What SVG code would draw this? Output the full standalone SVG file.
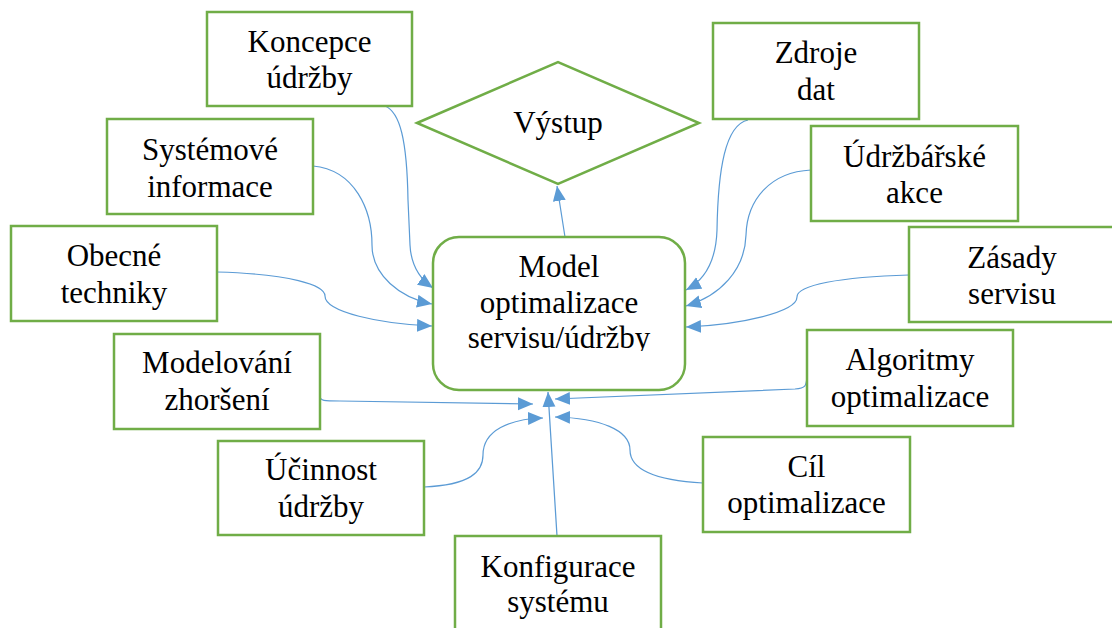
<svg xmlns="http://www.w3.org/2000/svg" width="1112" height="628" viewBox="0 0 1112 628" font-family="Liberation Serif, serif">
<defs>
<style>
.box{fill:#fff;stroke:#70AD47;stroke-width:2.5}
.t{font-size:31px;fill:#000;text-anchor:middle}
.c{fill:none;stroke:#5B9BD5;stroke-width:1.2}
</style>
<marker id="ah" markerUnits="userSpaceOnUse" markerWidth="16" markerHeight="14" refX="15" refY="6.5" orient="auto">
<path d="M0,0 L15,6.5 L0,13 z" fill="#5B9BD5"/>
</marker>
<clipPath id="cclip"><rect x="433" y="237" width="252" height="114"/></clipPath>
</defs>
<rect width="1112" height="628" fill="#fff"/>

<g id="connectors">
<path class="c" marker-end="url(#ah)" d="M385,106 C400,112 407,140 408,200 L410,245 C411,265 420,279 433,288"/>
<path class="c" marker-end="url(#ah)" d="M313,166 C355,170 372,210 372,245 C372,275 400,298 432,304"/>
<path class="c" marker-end="url(#ah)" d="M217,272 C290,274 325,285 325,296 C325,312 380,324 432,326"/>
<path class="c" marker-end="url(#ah)" d="M320,396 C320,401 324,401 340,401 L533,404"/>
<path class="c" marker-end="url(#ah)" d="M424,487 C470,485 483,472 483,455 C483,430 510,419 543,418"/>
<path class="c" marker-end="url(#ah)" d="M557,536 L548,392"/>
<path class="c" marker-end="url(#ah)" d="M807,377 C806,386 806,388 795,389 L555,399"/>
<path class="c" marker-end="url(#ah)" d="M703,483 C650,480 630,468 630,450 C630,430 600,418 555,417"/>
<path class="c" marker-end="url(#ah)" d="M748,120 C725,125 718,170 717,230 C716,262 705,280 686,290"/>
<path class="c" marker-end="url(#ah)" d="M811,170 C770,172 747,200 746,235 C745,270 720,296 686,306"/>
<path class="c" marker-end="url(#ah)" d="M909,275 C840,277 797,285 797,297 C797,312 740,325 686,327"/>
<path class="c" marker-end="url(#ah)" d="M565,237 L557,186"/>
</g>

<g id="center">
<rect class="box" x="433" y="237" width="252" height="153" rx="26" ry="26"/>
<g clip-path="url(#cclip)">
<text class="t" x="559" y="277">Model</text>
<text class="t" x="559" y="313">optimalizace</text>
<text class="t" x="559" y="348">servisu/údržby</text>
</g>
</g>

<g id="vystup">
<polygon class="box" points="417,123 558,62 699,123 558,184"/>
<text class="t" x="558" y="133">Výstup</text>
</g>

<g id="koncepce">
<rect class="box" x="207" y="12" width="205" height="94"/>
<text class="t" x="309.5" y="52">Koncepce</text>
<text class="t" x="309.5" y="88">údržby</text>
</g>

<g id="systemove">
<rect class="box" x="107" y="119" width="206" height="95"/>
<text class="t" x="210" y="160">Systémové</text>
<text class="t" x="210" y="197">informace</text>
</g>

<g id="obecne">
<rect class="box" x="11" y="226" width="206" height="95"/>
<text class="t" x="114" y="266">Obecné</text>
<text class="t" x="114" y="303">techniky</text>
</g>

<g id="modelovani">
<rect class="box" x="114" y="334" width="206" height="95"/>
<text class="t" x="217" y="373">Modelování</text>
<text class="t" x="217" y="410">zhoršení</text>
</g>

<g id="ucinnost">
<rect class="box" x="218" y="441" width="206" height="94"/>
<text class="t" x="321" y="480">Účinnost</text>
<text class="t" x="321" y="517">údržby</text>
</g>

<g id="konfigurace">
<rect class="box" x="455" y="536" width="206" height="100"/>
<text class="t" x="558" y="577">Konfigurace</text>
<text class="t" x="558" y="612">systému</text>
</g>

<g id="cil">
<rect class="box" x="703" y="437" width="207" height="95"/>
<text class="t" x="806.5" y="477">Cíl</text>
<text class="t" x="806.5" y="513">optimalizace</text>
</g>

<g id="algoritmy">
<rect class="box" x="807" y="330" width="206" height="96"/>
<text class="t" x="910" y="370">Algoritmy</text>
<text class="t" x="910" y="407">optimalizace</text>
</g>

<g id="zasady">
<rect class="box" x="909" y="227" width="206" height="95"/>
<text class="t" x="1012" y="268">Zásady</text>
<text class="t" x="1012" y="304">servisu</text>
</g>

<g id="udrzbarske">
<rect class="box" x="811" y="126" width="207" height="95"/>
<text class="t" x="914.5" y="167">Údržbářské</text>
<text class="t" x="914.5" y="203">akce</text>
</g>

<g id="zdroje">
<rect class="box" x="713" y="23" width="206" height="96"/>
<text class="t" x="816" y="63">Zdroje</text>
<text class="t" x="816" y="100">dat</text>
</g>
</svg>
